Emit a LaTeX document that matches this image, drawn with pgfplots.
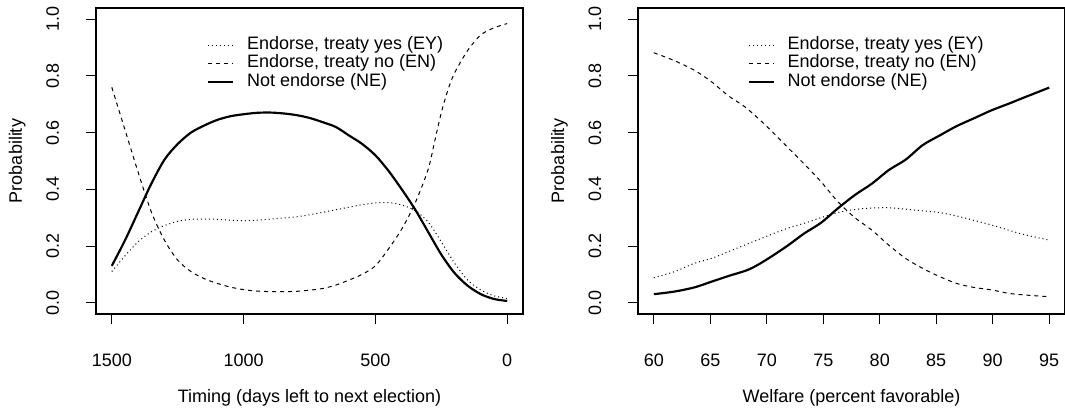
\documentclass[border=0pt]{standalone}
\usepackage{fontspec}
\setmainfont{Liberation Sans}
\usepackage{pgfplots}
\pgfplotsset{compat=1.18}

\pgfplotsset{
  rplot/.style={
    scale only axis,
    width=256.2pt, height=183.6pt,
    anchor=south west,
    axis lines=box,
    axis line style={black, line width=0.7pt},
    ymin=-0.04, ymax=1.04,
    ytick={0,0.2,0.4,0.6,0.8,1},
    tick align=outside,
    xtick pos=left, ytick pos=left,
    major tick length=6pt,
    major tick style={black, line width=0.6pt},
    /pgf/number format/assume math mode=true,
    /pgf/number format/1000 sep={},
    yticklabel style={/pgf/number format/fixed, /pgf/number format/fixed zerofill,
      /pgf/number format/precision=1, xshift=-16.2pt, rotate=90, anchor=base},
    xticklabel style={anchor=base, yshift=-25.2pt},
    every axis y label/.style={at={(axis description cs:0,0.5)}, xshift=-44.4pt, rotate=90, anchor=base},
    every axis x label/.style={at={(axis description cs:0.5,0)}, yshift=-52.8pt, anchor=base},
    ylabel={Probability},
    legend style={anchor=north west, draw=none, fill=none, inner sep=0pt, row sep=0pt,
      nodes={inner sep=0.5pt, text height=7.6pt, text depth=2.5pt, anchor=west},
      /tikz/every odd column/.style={column sep=7pt}},
    legend cell align=left,
    legend image code/.code={\draw[##1] (0pt,0pt) -- (15pt,0pt);},
    rEY/.style={black, line width=0.6pt, dash pattern=on 0.6pt off 1.8pt},
    rEN/.style={black, line width=0.6pt, dash pattern=on 2.4pt off 2.4pt},
    rNE/.style={black, line width=1.3pt},
  }
}

\begin{document}
\fontsize{10.8}{13}\selectfont
\begin{tikzpicture}
\useasboundingbox (0,0) rectangle (639pt,246.6pt);

% left panel: timing
\begin{axis}[rplot,
  at={(57.6pt,58.2pt)},
  x dir=reverse,
  xmin=-60, xmax=1560,
  xtick={0,500,1000,1500},
  xlabel={Timing (days left to next election)},
  legend style={at={(0.26,0.91)}},
]
\addplot[rEY, smooth] coordinates {
(1500,0.11) (1450,0.165) (1400,0.215) (1350,0.25) (1300,0.272) (1250,0.287)
(1200,0.294) (1150,0.295) (1100,0.294) (1050,0.291) (1000,0.289) (950,0.291)
(900,0.295) (850,0.299) (800,0.303) (750,0.31) (700,0.319) (650,0.328)
(600,0.337) (550,0.346) (500,0.352) (450,0.353) (400,0.345) (350,0.325)
(300,0.285) (250,0.215) (200,0.14) (150,0.08) (100,0.045) (50,0.024) (0,0.015)
};
\addlegendentry{Endorse, treaty yes (EY)}
\addplot[rEN, smooth] coordinates {
(1500,0.76) (1450,0.61) (1400,0.46) (1350,0.32) (1300,0.22) (1250,0.15)
(1200,0.11) (1150,0.085) (1100,0.068) (1050,0.055) (1000,0.046) (950,0.041)
(900,0.039) (850,0.039) (800,0.04) (750,0.044) (700,0.05) (650,0.062)
(600,0.08) (550,0.1) (500,0.13) (450,0.19) (400,0.26) (350,0.35)
(300,0.47) (275,0.57) (250,0.67) (225,0.75) (200,0.81) (150,0.89)
(100,0.945) (50,0.97) (0,0.985)
};
\addlegendentry{Endorse, treaty no (EN)}
\addplot[rNE, smooth] coordinates {
(1500,0.13) (1450,0.22) (1400,0.32) (1350,0.42) (1300,0.505) (1250,0.56)
(1200,0.60) (1150,0.625) (1100,0.645) (1050,0.658) (1000,0.665) (950,0.67)
(900,0.671) (850,0.668) (800,0.662) (750,0.652) (700,0.637) (650,0.62)
(600,0.59) (550,0.56) (500,0.52) (450,0.465) (400,0.40) (350,0.33)
(300,0.25) (250,0.17) (200,0.105) (150,0.06) (100,0.03) (50,0.013) (0,0.006)
};
\addlegendentry{Not endorse (NE)}
\end{axis}

% right panel: welfare
\begin{axis}[rplot,
  at={(382.8pt,58.2pt)},
  xmin=58.6, xmax=96.4,
  xtick={60,65,70,75,80,85,90,95},
  xlabel={Welfare (percent favorable)},
  legend style={at={(0.2565,0.91)}},
]
\addplot[rEY, smooth] coordinates {
(60,0.088) (61.8,0.109) (63.6,0.139) (65.1,0.156) (66.6,0.18) (68.4,0.209)
(69.9,0.233) (71.8,0.262) (73.3,0.28) (74.8,0.30) (76.3,0.318) (77.8,0.329)
(79.3,0.334) (80.8,0.335) (82.3,0.33) (83.8,0.324) (85.3,0.318) (86.8,0.306)
(88.3,0.291) (89.9,0.274) (91.4,0.256) (92.9,0.239) (95,0.221)
};
\addlegendentry{Endorse, treaty yes (EY)}
\addplot[rEN, smooth] coordinates {
(60,0.882) (61.15,0.865) (62.06,0.85) (63.6,0.82) (65.1,0.78) (66.6,0.73)
(68.1,0.69) (69.9,0.626) (71.8,0.55) (73.3,0.49) (74.8,0.427) (76.3,0.356)
(77.8,0.30) (79.3,0.256) (80.8,0.203) (82.3,0.156) (83.8,0.121) (85.3,0.092)
(86.8,0.068) (88.3,0.054) (89.9,0.045) (91.4,0.033) (92.9,0.027) (95,0.021)
};
\addlegendentry{Endorse, treaty no (EN)}
\addplot[rNE, smooth] coordinates {
(60,0.03) (61.8,0.039) (63.6,0.054) (65.1,0.074) (66.6,0.094) (68.4,0.117)
(69.9,0.15) (71.8,0.2) (73.3,0.244) (74.8,0.282) (76.3,0.333) (77.8,0.38)
(79.3,0.42) (80.8,0.468) (82.3,0.505) (83.8,0.556) (85.3,0.59) (86.8,0.623)
(88.3,0.65) (89.9,0.679) (91.4,0.702) (92.9,0.726) (95,0.759)
};
\addlegendentry{Not endorse (NE)}
\end{axis}
\end{tikzpicture}
\end{document}
